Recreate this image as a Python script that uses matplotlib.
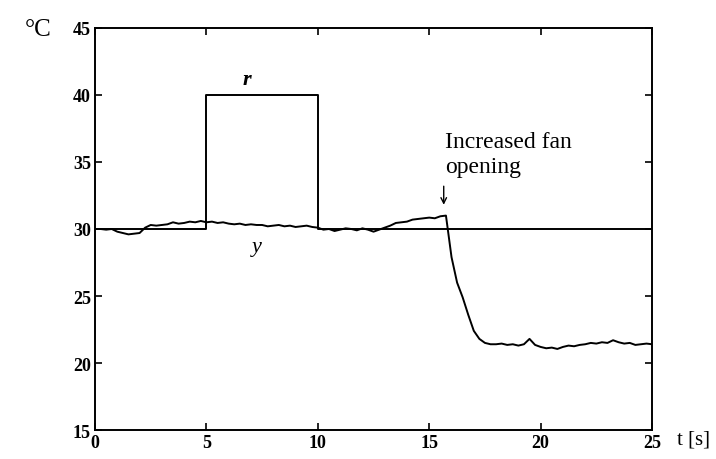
import numpy as np
import matplotlib
matplotlib.use("Agg")
import matplotlib.pyplot as plt

# setpoint r (step 30 -> 40 -> 30)
r_t = [0, 5, 5, 10, 10, 25]
r_val = [30, 30, 40, 40, 30, 30]

y_val = [
    30.0, 30.0, 29.95, 30.0,
    29.8, 29.7, 29.6, 29.65,
    29.7, 30.1, 30.3, 30.25,
    30.3, 30.35, 30.5, 30.4,
    30.45, 30.55, 30.5, 30.6,
    30.5, 30.55, 30.45, 30.5,
    30.4, 30.35, 30.4, 30.3,
    30.35, 30.3, 30.3, 30.2,
    30.25, 30.3, 30.2, 30.25,
    30.15, 30.2, 30.25, 30.15,
    30.1, 29.95, 30.0, 29.85,
    29.95, 30.05, 30.0, 29.9,
    30.05, 29.95, 29.8, 29.95,
    30.1, 30.25, 30.45, 30.5,
    30.55, 30.7, 30.75, 30.8,
    30.85, 30.8, 30.95, 31.0,
    27.9, 26.0, 24.9, 23.6,
    22.4, 21.8, 21.5, 21.4,
    21.4, 21.45, 21.35, 21.4,
    21.3, 21.4, 21.8, 21.35,
    21.2, 21.1, 21.15, 21.05,
    21.2, 21.3, 21.25, 21.35,
    21.4, 21.5, 21.45, 21.55,
    21.5, 21.7, 21.55, 21.45,
    21.5, 21.35, 21.4, 21.45,
    21.4,
]
y_t = np.arange(len(y_val)) * 0.25

x_ticks = [0, 5, 10, 15, 20, 25]
y_ticks = [15, 20, 25, 30, 35, 40, 45]

fig = plt.figure(figsize=(7.16, 4.6), dpi=100)
ax = fig.add_axes([0.1327, 0.063, 0.778, 0.874])

ax.plot(r_t, r_val, color="black", lw=1.4)
ax.plot(y_t, y_val, color="black", lw=1.4)

ax.set_xlim(0, 25)
ax.set_ylim(15, 45)
ax.set_xticks(x_ticks)
ax.set_yticks(y_ticks)
ax.tick_params(direction="in", top=True, right=True, length=5, width=1.2,
               labelsize=13, pad=3)
for lab in ax.get_xticklabels() + ax.get_yticklabels():
    lab.set_family("Liberation Serif")
    lab.set_fontweight("bold")
for s in ax.spines.values():
    s.set_linewidth(1.4)

ax.text(6.8, 41.2, "r", fontsize=16, style="italic", fontweight="bold",
        family="Liberation Serif", ha="center", va="center")
ax.text(7.27, 28.7, "y", fontsize=16, style="italic",
        family="Liberation Serif", ha="center", va="center")

fig.text(0.035, 0.935, "°C", fontsize=18, family="Liberation Serif",
         ha="left", va="center")
fig.text(0.945, 0.043, "t [s]", fontsize=15, family="Liberation Serif",
         ha="left", va="center")

ax.text(15.7, 35.6, "Increased fan\nopening", fontsize=17,
        family="Liberation Serif", ha="left", va="center", linespacing=1.3)
ax.annotate("", xy=(15.65, 31.6), xytext=(15.65, 33.4),
            arrowprops=dict(arrowstyle="->", color="black", lw=1.0))

fig.savefig("out.png", dpi=100)
